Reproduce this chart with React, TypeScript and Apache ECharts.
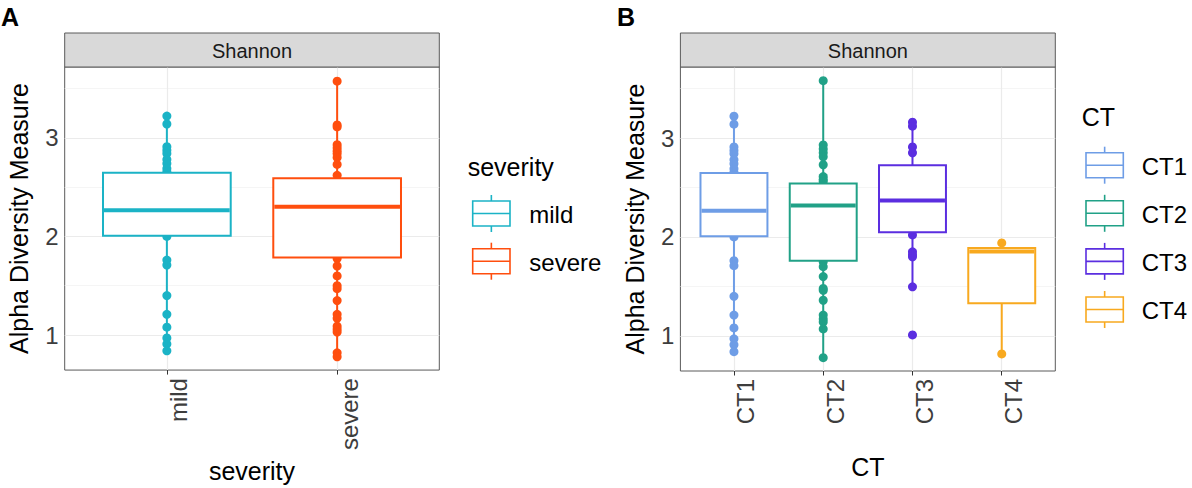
import React, { useEffect, useRef } from 'react';
import * as echarts from 'echarts';

// ---------- data ----------
const severityCats = ['mild', 'severe'];
const severityColors = ['#1BB3C6', '#FF4E0E'];
// [lower whisker, Q1, median, Q3, upper whisker]
const mildBox = [0.84, 2.008, 2.265, 2.646, 3.22];
const severeBox = [0.78, 1.787, 2.302, 2.589, 3.574];
const mildPoints = [3.22, 3.14, 2.91, 2.875, 2.84, 2.78, 2.74, 2.69, 2.655, 2.0, 1.76, 1.71, 1.4, 1.21, 1.08, 0.97, 0.91, 0.84];
const severePoints = [3.574, 3.13, 3.11, 2.93, 2.9, 2.87, 2.84, 2.8, 2.73, 2.62, 1.775, 1.7, 1.6, 1.5, 1.47, 1.35, 1.21, 1.17, 1.09, 1.06, 1.03, 0.82, 0.78];

const ctCats = ['CT1', 'CT2', 'CT3', 'CT4'];
const ctColors = ['#6E9DE6', '#21A187', '#5B2EE0', '#F8A91F'];
const ct1Box = [0.84, 2.008, 2.265, 2.646, 3.22];
const ct2Box = [0.78, 1.759, 2.318, 2.541, 3.58];
const ct3Box = [1.496, 2.047, 2.368, 2.724, 3.16];
const ct4Box = [0.818, 1.33, 1.852, 1.889, 1.94];
const ct1Points = [3.22, 3.14, 2.91, 2.875, 2.84, 2.78, 2.74, 2.69, 2.655, 2.0, 1.76, 1.71, 1.4, 1.21, 1.08, 0.97, 0.91, 0.84];
const ct2Points = [3.58, 2.93, 2.89, 2.85, 2.81, 2.73, 2.61, 2.58, 2.56, 1.75, 1.7, 1.6, 1.48, 1.46, 1.36, 1.21, 1.17, 1.14, 1.07, 0.78];
const ct3Points = [3.16, 3.12, 2.91, 2.85, 2.02, 1.85, 1.82, 1.8, 1.496, 1.01];
const ct4Points = [1.94, 0.818];

const yTicks = [1, 2, 3];
const yMinorTicks = [1.5, 2.5, 3.5];
const yRange = [0.645, 3.718];

const stripLabel = 'Shannon';
const yTitle = 'Alpha Diversity Measure';

// ---------- layout ----------
const FONT = '"Liberation Sans", Arial, Helvetica, sans-serif';
const W = 1192;
const H = 488;
const PANEL_TOP = 67;
const PANEL_H = 304;
const STRIP_TOP = 33;
const panels = [
  {
    left: 64.7, width: 374.6, cats: severityCats, colors: severityColors,
    boxes: [mildBox, severeBox], points: [mildPoints, severePoints],
    xTitle: 'severity', tag: 'A', tagX: 1,
    legend: { title: 'severity', titleLeft: 467.7, keyLeft: 472.7, textLeft: 529.3, titleY: 166.7, firstY: 213.5, step: 47.7 },
  },
  {
    left: 680.4, width: 374.9, cats: ctCats, colors: ctColors,
    boxes: [ct1Box, ct2Box, ct3Box, ct4Box], points: [ct1Points, ct2Points, ct3Points, ct4Points],
    xTitle: 'CT', tag: 'B', tagX: 617,
    legend: { title: 'CT', titleLeft: 1081.7, keyLeft: 1086, textLeft: 1141.7, titleY: 116.7, firstY: 165.2, step: 48.1 },
  },
];

function buildOption() {
  const grid: any[] = [];
  const xAxis: any[] = [];
  const yAxis: any[] = [];
  const series: any[] = [];
  const graphic: any[] = [];

  panels.forEach((p, g) => {
    grid.push({
      left: p.left, top: PANEL_TOP, width: p.width, height: PANEL_H, z: 0,
      show: true, borderColor: '#5A5A5A', borderWidth: 1, backgroundColor: '#FFFFFF', containLabel: false,
    });
    const catIdx = p.cats.map((_, i) => i);
    xAxis.push({
      type: 'value', gridIndex: g, min: -0.6, max: p.cats.length - 0.4,
      axisLine: { show: false }, splitLine: { show: false },
      axisTick: { show: true, customValues: catIdx, length: 4.5, lineStyle: { color: '#333333', width: 1 } },
      axisLabel: {
        customValues: catIdx, formatter: (v: number) => p.cats[Math.round(v)] ?? '',
        rotate: 90, align: 'right', verticalAlign: 'top', margin: 8,
        fontSize: 24, color: '#3D3D3D', fontFamily: FONT,
      },
      name: p.xTitle, nameLocation: 'middle', nameGap: 83,
      nameTextStyle: { fontSize: 25, color: '#000000', fontFamily: FONT },
    });
    yAxis.push({
      type: 'value', gridIndex: g, min: yRange[0], max: yRange[1],
      axisLine: { show: false }, splitLine: { show: false },
      axisTick: { show: true, customValues: yTicks, length: 4.5, lineStyle: { color: '#333333', width: 1 } },
      axisLabel: { customValues: yTicks, margin: 6, fontSize: 24, color: '#3D3D3D', fontFamily: FONT },
      name: yTitle, nameLocation: 'middle', nameGap: 33,
      nameTextStyle: { fontSize: 25, color: '#000000', fontFamily: FONT },
    });

    // grid lines (kept underneath the points and boxes)
    const major = { color: '#EBEBEB', width: 1.2, type: 'solid' };
    const minor = { color: '#F2F2F2', width: 0.8, type: 'solid' };
    series.push({
      type: 'line', xAxisIndex: g, yAxisIndex: g, data: [], z: 1, silent: true,
      markLine: {
        z: 1, silent: true, symbol: ['none', 'none'], label: { show: false }, animation: false,
        data: [
          ...yMinorTicks.map((v) => ({ yAxis: v, lineStyle: minor })),
          ...yTicks.map((v) => ({ yAxis: v, lineStyle: major })),
          ...catIdx.map((i) => ({ xAxis: i, lineStyle: major })),
        ],
      },
    });

    // points
    p.points.forEach((pts, i) => {
      series.push({
        type: 'scatter', xAxisIndex: g, yAxisIndex: g, z: 2, silent: true,
        symbol: 'circle', symbolSize: 9,
        itemStyle: { color: p.colors[i], opacity: 1 },
        data: pts.map((v) => [i, v]),
      });
    });

    // boxes
    series.push({
      type: 'custom', xAxisIndex: g, yAxisIndex: g, z: 3, silent: true,
      encode: { x: 0, y: [1, 2, 3, 4, 5] },
      data: p.boxes.map((b, i) => [i, ...b]),
      renderItem: (params: any, api: any) => {
        const x = api.value(0);
        const low = api.coord([x, api.value(1)]);
        const q1 = api.coord([x, api.value(2)]);
        const med = api.coord([x, api.value(3)]);
        const q3 = api.coord([x, api.value(4)]);
        const high = api.coord([x, api.value(5)]);
        const hw = api.size([0.75, 0])[0] / 2;
        const color = p.colors[params.dataIndex];
        const ls = { stroke: color, lineWidth: 2, fill: 'none' };
        return {
          type: 'group',
          children: [
            { type: 'line', shape: { x1: low[0], y1: low[1], x2: q1[0], y2: q1[1] }, style: ls },
            { type: 'line', shape: { x1: q3[0], y1: q3[1], x2: high[0], y2: high[1] }, style: ls },
            { type: 'rect', shape: { x: q1[0] - hw, y: q3[1], width: hw * 2, height: q1[1] - q3[1] }, style: { fill: '#FFFFFF', stroke: color, lineWidth: 2 } },
            { type: 'line', shape: { x1: med[0] - hw + 1, y1: med[1], x2: med[0] + hw - 1, y2: med[1] }, style: { stroke: color, lineWidth: 4 } },
          ],
        };
      },
    });

    // strip
    graphic.push({
      type: 'rect', shape: { x: p.left, y: STRIP_TOP, width: p.width, height: PANEL_TOP - STRIP_TOP },
      style: { fill: '#D9D9D9', stroke: '#5A5A5A', lineWidth: 1 }, z: 10,
    });
    graphic.push({
      type: 'text', x: p.left + p.width / 2, y: (STRIP_TOP + PANEL_TOP) / 2 + 1, z: 11,
      style: { text: stripLabel, fontSize: 20, fontFamily: FONT, fill: '#1A1A1A', align: 'center', verticalAlign: 'middle' },
    });
    // panel tag
    graphic.push({
      type: 'text', x: p.tagX, y: 17, z: 11,
      style: { text: p.tag, fontSize: 25, fontWeight: 'bold', fontFamily: FONT, fill: '#000000', align: 'left', verticalAlign: 'middle' },
    });

    // legend
    const L = p.legend;
    graphic.push({
      type: 'text', x: L.titleLeft, y: L.titleY, z: 11,
      style: { text: L.title, fontSize: 25, fontFamily: FONT, fill: '#000000', align: 'left', verticalAlign: 'middle' },
    });
    p.cats.forEach((c, i) => {
      const cy = L.firstY + i * L.step;
      const kw = 37.3;
      const cx = L.keyLeft + kw / 2;
      const col = p.colors[i];
      const st = { stroke: col, lineWidth: 1.6, fill: 'none' };
      graphic.push({ type: 'line', z: 11, shape: { x1: cx, y1: cy - 18.5, x2: cx, y2: cy - 12.5 }, style: st });
      graphic.push({ type: 'line', z: 11, shape: { x1: cx, y1: cy + 12.5, x2: cx, y2: cy + 18.5 }, style: st });
      graphic.push({ type: 'rect', z: 11, shape: { x: L.keyLeft, y: cy - 12.5, width: kw, height: 25 }, style: { fill: '#FFFFFF', stroke: col, lineWidth: 1.6 } });
      graphic.push({ type: 'line', z: 11, shape: { x1: L.keyLeft, y1: cy, x2: L.keyLeft + kw, y2: cy }, style: st });
      graphic.push({
        type: 'text', x: L.textLeft, y: cy + 1, z: 11,
        style: { text: c, fontSize: 24, fontFamily: FONT, fill: '#000000', align: 'left', verticalAlign: 'middle' },
      });
    });
  });

  return { animation: false, backgroundColor: '#FFFFFF', grid, xAxis, yAxis, series, graphic };
}

export default function App() {
  const ref = useRef<HTMLDivElement>(null);
  useEffect(() => {
    if (!ref.current) return;
    const chart = echarts.init(ref.current, undefined, { renderer: 'svg', width: W, height: H });
    chart.setOption(buildOption() as any);
    return () => chart.dispose();
  }, []);
  return (
    <div
      ref={ref}
      style={{ position: 'absolute', left: 0, top: 0, width: W, height: H, background: '#FFFFFF' }}
    />
  );
}
